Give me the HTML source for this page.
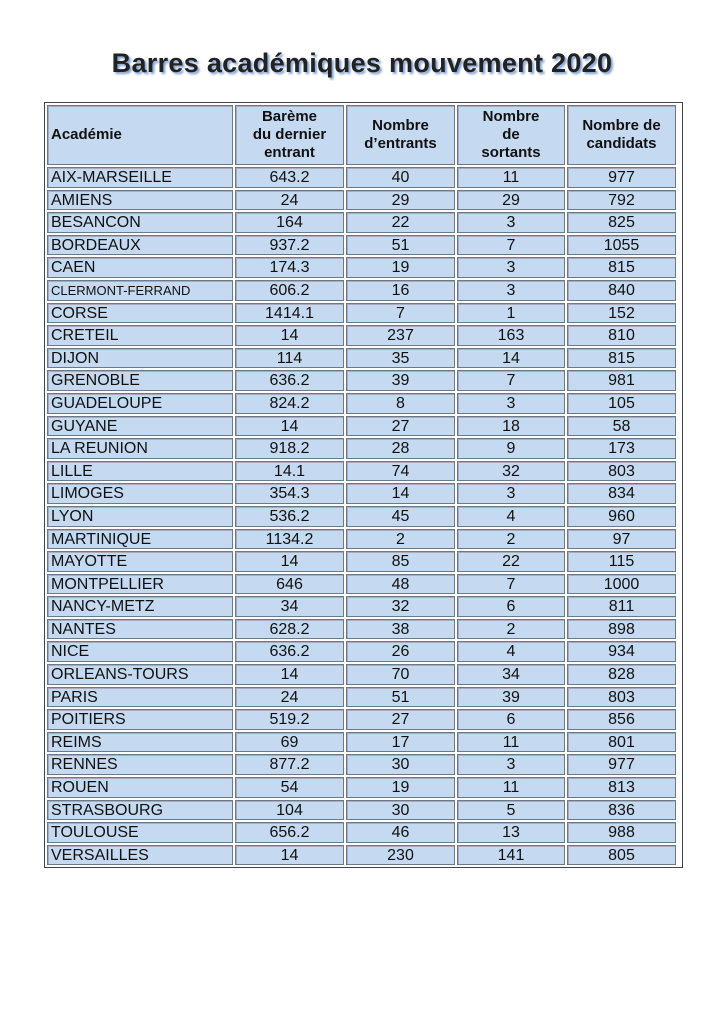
<!DOCTYPE html>
<html><head><meta charset="utf-8"><style>
body{margin:0;background:#fff;width:724px;height:1024px;position:relative;font-family:"Liberation Sans",Arial,sans-serif;}
h1{position:absolute;top:48px;left:0;width:724px;margin:0;text-align:center;font-size:27px;font-weight:bold;color:#222;text-shadow:2px 2px 2px #7fa0d0;letter-spacing:0.3px}
.g{position:absolute;left:44px;top:102px;width:633px;display:grid;grid-template-columns:186px 109px 109px 108px 109px;grid-template-rows:60px;grid-auto-rows:20.6px;gap:2px;padding:2px;border:1px solid #444;background:#fff}
.g div{box-sizing:border-box;background:#c5d9f0;border:1px solid #6a7a8a;box-shadow:inset 1px 1px 0 #aab;font-size:16px;color:#111;text-align:center;line-height:18px;padding-top:1px;white-space:nowrap;overflow:hidden}
.g div.l{text-align:left;padding-left:3px}
.g div.h{font-weight:bold;font-size:15px;line-height:18px;padding-top:0;display:flex;align-items:center;justify-content:center}
.g div.h.l{justify-content:flex-start}
.g div.s{font-size:13px}
</style></head><body>
<h1>Barres académiques mouvement 2020</h1>
<div class="g">
<div class="h l">Académie</div><div class="h">Barème<br>du dernier<br>entrant</div><div class="h">Nombre<br>d’entrants</div><div class="h">Nombre<br>de<br>sortants</div><div class="h">Nombre de<br>candidats</div>
<div class="l">AIX-MARSEILLE</div><div>643.2</div><div>40</div><div>11</div><div>977</div>
<div class="l">AMIENS</div><div>24</div><div>29</div><div>29</div><div>792</div>
<div class="l">BESANCON</div><div>164</div><div>22</div><div>3</div><div>825</div>
<div class="l">BORDEAUX</div><div>937.2</div><div>51</div><div>7</div><div>1055</div>
<div class="l">CAEN</div><div>174.3</div><div>19</div><div>3</div><div>815</div>
<div class="l s">CLERMONT-FERRAND</div><div>606.2</div><div>16</div><div>3</div><div>840</div>
<div class="l">CORSE</div><div>1414.1</div><div>7</div><div>1</div><div>152</div>
<div class="l">CRETEIL</div><div>14</div><div>237</div><div>163</div><div>810</div>
<div class="l">DIJON</div><div>114</div><div>35</div><div>14</div><div>815</div>
<div class="l">GRENOBLE</div><div>636.2</div><div>39</div><div>7</div><div>981</div>
<div class="l">GUADELOUPE</div><div>824.2</div><div>8</div><div>3</div><div>105</div>
<div class="l">GUYANE</div><div>14</div><div>27</div><div>18</div><div>58</div>
<div class="l">LA REUNION</div><div>918.2</div><div>28</div><div>9</div><div>173</div>
<div class="l">LILLE</div><div>14.1</div><div>74</div><div>32</div><div>803</div>
<div class="l">LIMOGES</div><div>354.3</div><div>14</div><div>3</div><div>834</div>
<div class="l">LYON</div><div>536.2</div><div>45</div><div>4</div><div>960</div>
<div class="l">MARTINIQUE</div><div>1134.2</div><div>2</div><div>2</div><div>97</div>
<div class="l">MAYOTTE</div><div>14</div><div>85</div><div>22</div><div>115</div>
<div class="l">MONTPELLIER</div><div>646</div><div>48</div><div>7</div><div>1000</div>
<div class="l">NANCY-METZ</div><div>34</div><div>32</div><div>6</div><div>811</div>
<div class="l">NANTES</div><div>628.2</div><div>38</div><div>2</div><div>898</div>
<div class="l">NICE</div><div>636.2</div><div>26</div><div>4</div><div>934</div>
<div class="l">ORLEANS-TOURS</div><div>14</div><div>70</div><div>34</div><div>828</div>
<div class="l">PARIS</div><div>24</div><div>51</div><div>39</div><div>803</div>
<div class="l">POITIERS</div><div>519.2</div><div>27</div><div>6</div><div>856</div>
<div class="l">REIMS</div><div>69</div><div>17</div><div>11</div><div>801</div>
<div class="l">RENNES</div><div>877.2</div><div>30</div><div>3</div><div>977</div>
<div class="l">ROUEN</div><div>54</div><div>19</div><div>11</div><div>813</div>
<div class="l">STRASBOURG</div><div>104</div><div>30</div><div>5</div><div>836</div>
<div class="l">TOULOUSE</div><div>656.2</div><div>46</div><div>13</div><div>988</div>
<div class="l">VERSAILLES</div><div>14</div><div>230</div><div>141</div><div>805</div>
</div>
</body></html>
